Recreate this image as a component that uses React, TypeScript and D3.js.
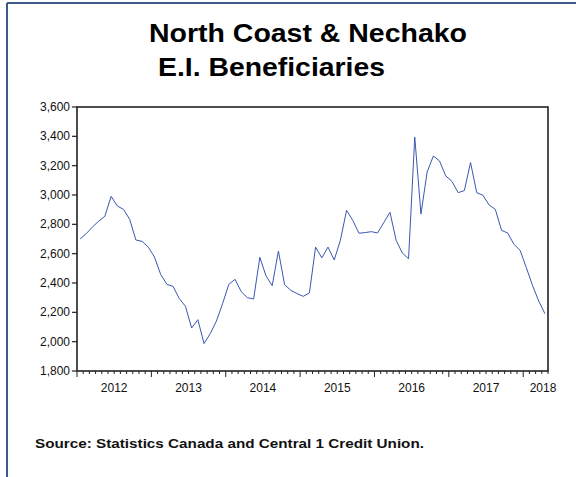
import React from "react";
import * as d3 from "d3";

const values: number[] = [
  2700, 2737, 2782, 2822, 2855, 2991, 2925, 2902, 2834, 2693,
  2684, 2645, 2577, 2459, 2391, 2377, 2294, 2241, 2093, 2150,
  1987, 2055, 2141, 2260, 2391, 2425, 2341, 2300, 2291, 2575,
  2448, 2382, 2618, 2389, 2350, 2328, 2309, 2332, 2645, 2571,
  2645, 2557, 2691, 2896, 2827, 2739, 2744, 2750, 2741, 2812,
  2882, 2691, 2604, 2566, 3395, 2870, 3157, 3266, 3232, 3130,
  3093, 3016, 3030, 3221, 3016, 2998, 2932, 2902, 2759, 2741,
  2664, 2623, 2505, 2384, 2277, 2191,
];
const yTicks: number[] = [1800, 2000, 2200, 2400, 2600, 2800, 3000, 3200, 3400, 3600];
const yearLabels: string[] = ["2012", "2013", "2014", "2015", "2016", "2017", "2018"];
const yearLabelMonth: number[] = [6, 18, 30, 42, 54, 66, 75.2];
const titleLines: string[] = ["North Coast & Nechako", "E.I. Beneficiaries"];
const sourceText = "Source: Statistics Canada and Central 1 Credit Union.";

const W = 576, H = 477;
const L = 77, R = 548, T = 107, B = 371;

export default function App() {
  const nMonths = values.length; // 76
  const x = d3.scaleLinear().domain([0, nMonths]).range([L, R]);
  const y = d3.scaleLinear().domain([1800, 3600]).range([B, T]);
  const line = d3
    .line<number>()
    .x((_, i) => x(i + 0.5))
    .y((d) => y(d));
  const fmt = d3.format(",");
  const months = d3.range(0, nMonths + 1);
  const font = "Arial, 'Liberation Sans', Helvetica, sans-serif";
  return (
    <svg
      width={W}
      height={H}
      style={{ position: "absolute", left: 0, top: 0, background: "#fff" }}
      fontFamily={font}
    >
      <rect x={0} y={0} width={W} height={H} fill="#fff" />
      {/* outer frame */}
      <line x1={7} y1={3} x2={W} y2={3} stroke="#3c5a8a" strokeWidth={2} />
      <line x1={7} y1={3} x2={7} y2={H} stroke="#3c5a8a" strokeWidth={2} />

      {/* title */}
      <text x={149} y={42} fontSize={25} fontWeight="bold" textLength={318} lengthAdjust="spacingAndGlyphs">
        {titleLines[0]}
      </text>
      <text x={158} y={76} fontSize={25} fontWeight="bold" textLength={227} lengthAdjust="spacingAndGlyphs">
        {titleLines[1]}
      </text>

      {/* plot frame */}
      <rect x={L} y={T} width={R - L} height={B - T} fill="none" stroke="#222" strokeWidth={1.6} />

      {/* y axis */}
      {yTicks.map((t) => (
        <g key={t}>
          <line x1={L - 5} x2={L} y1={y(t)} y2={y(t)} stroke="#222" strokeWidth={1.2} />
          <text x={L - 7} y={y(t) + 4} fontSize={12} textAnchor="end" fill="#111">
            {fmt(t)}
          </text>
        </g>
      ))}

      {/* x axis ticks */}
      {months.map((m) => (
        <line
          key={m}
          x1={x(m)}
          x2={x(m)}
          y1={B}
          y2={B + (m % 12 === 0 ? 6 : 3)}
          stroke="#222"
          strokeWidth={1}
        />
      ))}
      {yearLabels.map((lab, i) => (
        <text key={lab} x={x(yearLabelMonth[i])} y={B + 21} fontSize={12} textAnchor="middle" fill="#111">
          {lab}
        </text>
      ))}

      {/* series */}
      <path d={line(values) || ""} fill="none" stroke="#3a58b0" strokeWidth={1} />

      {/* source */}
      <text x={35} y={448} fontSize={12.5} fontWeight="bold" fill="#111" textLength={389} lengthAdjust="spacingAndGlyphs">
        {sourceText}
      </text>
    </svg>
  );
}
